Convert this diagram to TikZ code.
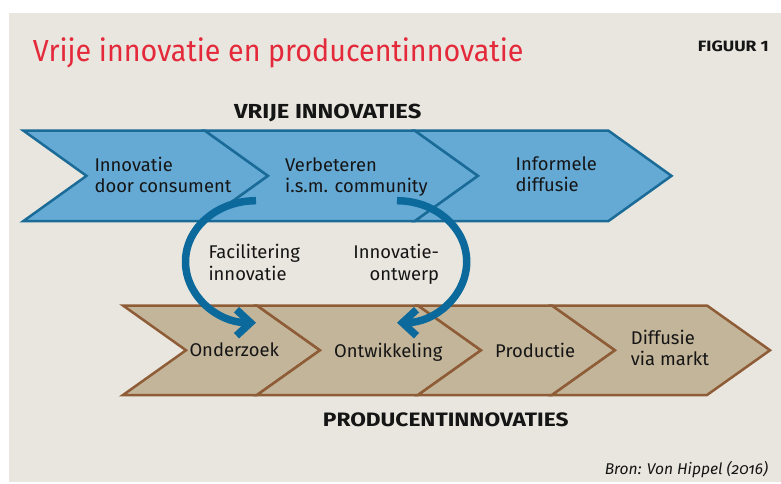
\documentclass[tikz,border=0pt]{standalone}
\usepackage{fontspec}
\setmainfont{Fira Sans}
\newfontfamily\headfont{Fira Sans}[FakeStretch=1.17]
\newfontfamily\titlefont{Fira Sans}[FakeStretch=0.94]
\usetikzlibrary{arrows.meta}
\definecolor{paper}{HTML}{E8E6DE}
\definecolor{vrijfill}{HTML}{65AAD5}
\definecolor{vrijline}{HTML}{1B6B98}
\definecolor{prodfill}{HTML}{C3B59A}
\definecolor{prodline}{HTML}{8E5C36}
\definecolor{loopblue}{HTML}{0B6A9B}
\definecolor{titlered}{HTML}{E4293B}
\definecolor{ink}{HTML}{151515}
\newcommand{\chevr}[5]{%
  \filldraw[#1] (#2,#4) -- (#3,#4) -- ({#3+\dep},{(#4+#5)/2}) -- (#3,#5)
    -- (#2,#5) -- ({#2+\dep},{(#4+#5)/2}) -- cycle;}

\begin{document}
\begin{tikzpicture}[x=1pt,y=-1pt]
        \def\dep{63}
        \tikzset{
            vrij/.style={fill=vrijfill, draw=vrijline, line width=2.5pt},
            prodc/.style={fill=prodfill, draw=prodline, line width=2.5pt},
            stage/.style={font=\fontsize{18.4}{21}\selectfont, text=ink,
                align=left, inner sep=0pt},
            heading/.style={font=\headfont\bfseries\fontsize{20.3}{22}\selectfont,
                text=ink, inner sep=0pt},
            cyclearrow/.style={draw=loopblue, line width=7.5pt,
                -{Straight Barb[length=14pt,width=26pt]}}
        }
        \fill[white] (0,0) rectangle (781,483);
        \fill[paper] (9,13) rectangle (781,482);
        \useasboundingbox (0,0) rectangle (781,483);

        \begin{scope}
            \chevr{vrij}{23.5}{205}{130.7}{221}
            \chevr{vrij}{205}{415}{130.7}{221}
            \chevr{vrij}{415}{608.5}{130.7}{221}
            \chevr{prodc}{123}{257}{305.5}{395}
            \chevr{prodc}{257}{418}{305.5}{395}
            \chevr{prodc}{418}{552}{305.5}{395}
            \chevr{prodc}{552}{707}{305.5}{395}
        \end{scope}

        \begin{scope}
            \node (T) [anchor=base west, inner sep=0pt, text=titlered,
                font=\titlefont\fontsize{30.5}{32}\selectfont] at (32.7, 61)
            {Vrije innovatie en producentinnovatie};
            \node (FIG) [heading, anchor=base east,
                font=\headfont\bfseries\fontsize{15}{16}\selectfont] at (769, 51)
            {FIGUUR 1};
            \node (VI) [heading, anchor=base west] at (234, 118.3)
            {VRIJE INNOVATIES};
            \node (V1) [stage, anchor=west] at (94.3, 175)
            {Innovatie\\door consument};
            \node (V2) [stage, anchor=west] at (285, 177)
            {Verbeteren\\i.s.m. community};
            \node (V3) [stage, anchor=west] at (515.5, 174.6)
            {Informele\\diffusie};
            \node (F1) [stage, anchor=west,
                font=\fontsize{18.4}{22}\selectfont] at (208.3, 262)
            {Facilitering\\innovatie};
            \node (F2) [stage, anchor=east, align=right,
                font=\fontsize{18.4}{22}\selectfont] at (439.3, 264.2)
            {Innovatie-\\ontwerp};
            \node (P1) [stage, anchor=base west] at (189.3, 356.7)
            {Onderzoek};
            \node (P2) [stage, anchor=base west] at (334, 357)
            {Ontwikkeling};
            \node (P3) [stage, anchor=base west] at (495, 357.3)
            {Productie};
            \node (P4) [stage, anchor=west] at (630.7, 347.6)
            {Diffusie\\via markt};
            \node (PI) [heading, anchor=base west,
                font=\headfont\bfseries\fontsize{19.4}{21}\selectfont] at (322.7, 426.7)
            {PRODUCENTINNOVATIES};
            \node (BR) [anchor=base east, inner sep=0pt, text=ink,
                font=\itshape\addfontfeatures{Numbers=OldStyle}\fontsize{15.6}{17}\selectfont]
                at (768.3, 474)
            {Bron: Von Hippel (2016)};
        \end{scope}

        \begin{scope}
            \coordinate (Fs) at (256, 200.7);
            \coordinate (Os) at (397, 200.7);
            \draw[cyclearrow] (Fs) arc[start angle=270, end angle=90,
                x radius=70.5, y radius=61];
            \draw[cyclearrow] (Os) arc[start angle=-90, end angle=90,
                x radius=69.7, y radius=61];
        \end{scope}

\end{tikzpicture}
\end{document}
